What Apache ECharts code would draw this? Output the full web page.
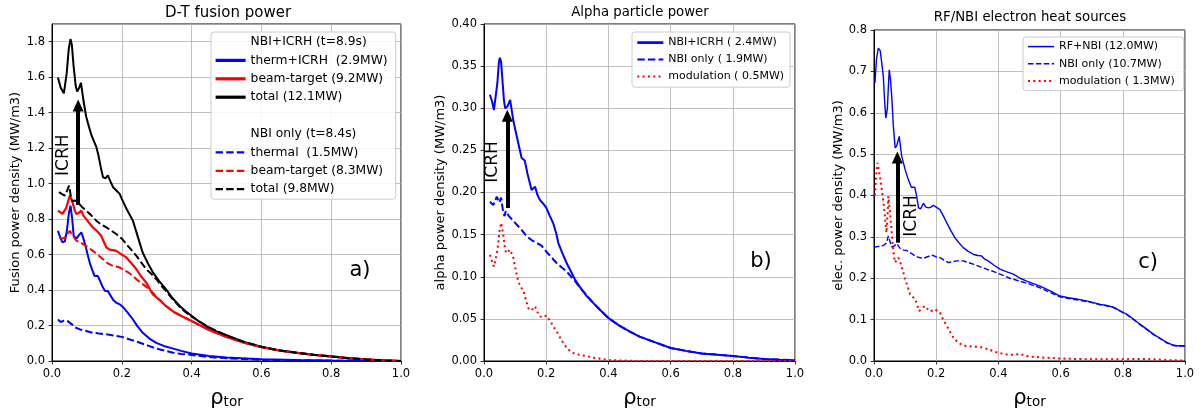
<!DOCTYPE html>
<html>
<head>
<meta charset="utf-8">
<script src="https://cdn.jsdelivr.net/npm/echarts/dist/echarts.min.js"></script>
<style>
  html, body { margin: 0; padding: 0; background: #fff; }
  #chart { width: 1199px; height: 414px; }
</style>
</head>
<body>
<div id="chart"></div>
<script>
// values, pairs of [rho_tor, density]
// a) D-T fusion power, NBI+ICRH
var fusThermIcrh = [[0.017,0.734],[0.025,0.69],[0.03,0.669],[0.037,0.675],[0.043,0.74],[0.048,0.83],[0.053,0.876],[0.058,0.8],[0.062,0.706],[0.07,0.69],[0.077,0.71],[0.084,0.725],[0.09,0.69],[0.096,0.649],[0.102,0.6],[0.108,0.555],[0.115,0.515],[0.122,0.479],[0.131,0.48],[0.137,0.455],[0.146,0.414],[0.152,0.395],[0.16,0.394],[0.165,0.385],[0.175,0.345],[0.184,0.329],[0.195,0.318],[0.203,0.305],[0.218,0.27],[0.232,0.234],[0.245,0.195],[0.26,0.159],[0.28,0.125],[0.299,0.102],[0.32,0.085],[0.34,0.074],[0.37,0.057],[0.4,0.042],[0.45,0.028],[0.5,0.02],[0.6,0.01],[0.7,0.006],[0.8,0.003],[0.9,0.001],[1.0,0]];
var fusBeamIcrh = [[0.017,0.848],[0.03,0.829],[0.04,0.86],[0.051,0.933],[0.058,0.9],[0.065,0.85],[0.07,0.829],[0.077,0.835],[0.084,0.848],[0.09,0.82],[0.098,0.8],[0.108,0.775],[0.117,0.753],[0.13,0.73],[0.141,0.706],[0.15,0.665],[0.156,0.64],[0.165,0.628],[0.175,0.625],[0.184,0.621],[0.2,0.6],[0.213,0.584],[0.228,0.55],[0.242,0.517],[0.256,0.475],[0.27,0.442],[0.289,0.375],[0.308,0.345],[0.327,0.309],[0.35,0.275],[0.375,0.25],[0.4,0.225],[0.45,0.175],[0.5,0.135],[0.55,0.103],[0.6,0.078],[0.65,0.06],[0.7,0.046],[0.75,0.035],[0.8,0.026],[0.85,0.016],[0.9,0.009],[0.95,0.003],[1.0,0]];
var fusTotalIcrh = [[0.017,1.598],[0.025,1.54],[0.034,1.509],[0.042,1.62],[0.048,1.76],[0.053,1.815],[0.057,1.78],[0.062,1.66],[0.068,1.55],[0.072,1.52],[0.078,1.54],[0.083,1.569],[0.09,1.47],[0.098,1.377],[0.106,1.32],[0.113,1.273],[0.12,1.24],[0.127,1.207],[0.133,1.16],[0.14,1.09],[0.146,1.037],[0.153,1.03],[0.16,1.046],[0.168,1.01],[0.175,0.98],[0.185,0.96],[0.194,0.942],[0.2,0.914],[0.213,0.86],[0.232,0.79],[0.246,0.7],[0.26,0.61],[0.275,0.55],[0.289,0.5],[0.307,0.45],[0.327,0.404],[0.345,0.355],[0.366,0.31],[0.383,0.28],[0.4,0.255],[0.42,0.225],[0.442,0.196],[0.47,0.168],[0.5,0.145],[0.55,0.108],[0.6,0.08],[0.65,0.06],[0.709,0.045],[0.75,0.035],[0.8,0.026],[0.85,0.016],[0.9,0.008],[0.95,0.003],[1.0,0]];
// a) NBI only
var fusThermNbi = [[0.017,0.234],[0.025,0.22],[0.03,0.21],[0.037,0.23],[0.045,0.225],[0.05,0.234],[0.058,0.205],[0.065,0.19],[0.08,0.178],[0.1,0.168],[0.117,0.159],[0.135,0.155],[0.156,0.151],[0.18,0.143],[0.2,0.136],[0.225,0.12],[0.25,0.104],[0.275,0.087],[0.299,0.07],[0.325,0.057],[0.347,0.047],[0.37,0.04],[0.4,0.034],[0.45,0.022],[0.5,0.015],[0.6,0.007],[0.7,0.004],[0.8,0.002],[0.9,0.001],[1.0,0]];
var fusBeamNbi = [[0.02,0.697],[0.03,0.69],[0.037,0.697],[0.045,0.72],[0.051,0.734],[0.058,0.71],[0.07,0.678],[0.08,0.67],[0.089,0.659],[0.1,0.645],[0.117,0.621],[0.13,0.6],[0.146,0.574],[0.16,0.55],[0.175,0.536],[0.19,0.53],[0.203,0.517],[0.218,0.5],[0.232,0.479],[0.245,0.455],[0.261,0.432],[0.275,0.41],[0.289,0.385],[0.3,0.36],[0.327,0.309],[0.35,0.275],[0.375,0.25],[0.4,0.225],[0.45,0.175],[0.5,0.135],[0.55,0.103],[0.6,0.078],[0.65,0.06],[0.7,0.046],[0.75,0.035],[0.8,0.026],[0.85,0.016],[0.9,0.009],[0.95,0.003],[1.0,0]];
var fusTotalNbi = [[0.02,0.952],[0.03,0.94],[0.037,0.933],[0.043,0.96],[0.049,0.989],[0.053,0.94],[0.058,0.9],[0.065,0.905],[0.074,0.895],[0.085,0.87],[0.098,0.848],[0.113,0.82],[0.127,0.791],[0.14,0.77],[0.156,0.753],[0.17,0.735],[0.184,0.716],[0.2,0.69],[0.213,0.659],[0.228,0.625],[0.242,0.593],[0.256,0.555],[0.27,0.517],[0.285,0.49],[0.299,0.461],[0.313,0.425],[0.327,0.394],[0.345,0.35],[0.366,0.305],[0.383,0.275],[0.4,0.25],[0.45,0.19],[0.5,0.143],[0.55,0.108],[0.6,0.08],[0.65,0.06],[0.7,0.046],[0.75,0.035],[0.8,0.026],[0.85,0.016],[0.9,0.008],[0.95,0.003],[1.0,0]];
// b) alpha particle power
var alphaIcrh = [[0.019,0.316],[0.026,0.308],[0.032,0.298],[0.037,0.3],[0.043,0.33],[0.048,0.355],[0.051,0.36],[0.055,0.355],[0.06,0.33],[0.064,0.31],[0.068,0.3],[0.075,0.302],[0.084,0.31],[0.089,0.298],[0.094,0.286],[0.102,0.272],[0.11,0.259],[0.121,0.241],[0.131,0.238],[0.14,0.222],[0.153,0.203],[0.159,0.203],[0.164,0.207],[0.172,0.197],[0.18,0.191],[0.19,0.187],[0.2,0.182],[0.212,0.172],[0.222,0.164],[0.232,0.152],[0.239,0.14],[0.252,0.128],[0.266,0.116],[0.28,0.106],[0.293,0.0965],[0.31,0.087],[0.33,0.077],[0.351,0.069],[0.375,0.06],[0.4,0.051],[0.435,0.042],[0.469,0.035],[0.5,0.029],[0.544,0.023],[0.6,0.0154],[0.65,0.012],[0.7,0.009],[0.75,0.0075],[0.8,0.006],[0.85,0.004],[0.9,0.0025],[0.95,0.0015],[1.0,0.001]];
var alphaNbi = [[0.019,0.189],[0.025,0.187],[0.03,0.185],[0.036,0.183],[0.041,0.195],[0.046,0.196],[0.05,0.188],[0.055,0.194],[0.062,0.176],[0.066,0.172],[0.07,0.178],[0.08,0.172],[0.09,0.168],[0.1,0.164],[0.12,0.156],[0.137,0.148],[0.155,0.143],[0.17,0.14],[0.185,0.137],[0.2,0.13],[0.217,0.123],[0.234,0.116],[0.25,0.111],[0.266,0.106],[0.29,0.096],[0.309,0.087],[0.33,0.078],[0.351,0.069],[0.375,0.06],[0.4,0.051],[0.435,0.042],[0.469,0.035],[0.5,0.029],[0.544,0.023],[0.6,0.0154],[0.65,0.012],[0.7,0.009],[0.75,0.0075],[0.8,0.006],[0.85,0.004],[0.9,0.0025],[0.95,0.0015],[1.0,0.001]];
var alphaMod = [[0.019,0.126],[0.026,0.118],[0.032,0.112],[0.04,0.125],[0.046,0.14],[0.05,0.155],[0.055,0.164],[0.058,0.165],[0.062,0.15],[0.067,0.135],[0.071,0.128],[0.077,0.13],[0.084,0.132],[0.094,0.123],[0.102,0.108],[0.11,0.0945],[0.118,0.088],[0.127,0.083],[0.135,0.072],[0.142,0.063],[0.152,0.06],[0.164,0.065],[0.172,0.058],[0.18,0.053],[0.19,0.052],[0.2,0.054],[0.212,0.048],[0.223,0.041],[0.24,0.031],[0.255,0.021],[0.27,0.014],[0.287,0.0095],[0.31,0.007],[0.329,0.006],[0.35,0.004],[0.37,0.003],[0.4,0.001],[0.45,0.0005],[0.5,0],[0.6,0],[0.7,0],[0.8,0],[0.9,0],[1.0,0]];
// c) RF/NBI electron heat sources
var elecRfNbi = [[0.003,0.672],[0.008,0.73],[0.014,0.756],[0.02,0.75],[0.025,0.72],[0.03,0.687],[0.034,0.63],[0.038,0.587],[0.043,0.61],[0.046,0.66],[0.049,0.704],[0.053,0.68],[0.057,0.64],[0.062,0.57],[0.068,0.515],[0.073,0.52],[0.081,0.543],[0.089,0.495],[0.1,0.463],[0.11,0.439],[0.12,0.42],[0.126,0.424],[0.131,0.42],[0.138,0.395],[0.143,0.37],[0.15,0.368],[0.159,0.381],[0.167,0.372],[0.175,0.37],[0.183,0.372],[0.191,0.376],[0.2,0.372],[0.212,0.366],[0.222,0.352],[0.234,0.334],[0.247,0.315],[0.26,0.298],[0.273,0.286],[0.287,0.274],[0.303,0.265],[0.319,0.258],[0.333,0.255],[0.346,0.254],[0.356,0.246],[0.367,0.242],[0.385,0.232],[0.405,0.222],[0.425,0.216],[0.448,0.21],[0.47,0.2],[0.491,0.193],[0.512,0.187],[0.534,0.181],[0.565,0.17],[0.598,0.157],[0.625,0.153],[0.651,0.15],[0.69,0.144],[0.727,0.137],[0.75,0.134],[0.77,0.13],[0.79,0.122],[0.813,0.113],[0.835,0.101],[0.855,0.089],[0.877,0.077],[0.898,0.065],[0.92,0.055],[0.941,0.045],[0.96,0.039],[0.973,0.037],[1.0,0.037]];
var elecNbi = [[0.0,0.275],[0.015,0.277],[0.03,0.279],[0.04,0.285],[0.046,0.302],[0.051,0.29],[0.056,0.276],[0.065,0.278],[0.073,0.284],[0.084,0.272],[0.095,0.268],[0.105,0.267],[0.12,0.26],[0.132,0.254],[0.145,0.25],[0.159,0.248],[0.172,0.252],[0.186,0.256],[0.2,0.252],[0.212,0.25],[0.225,0.244],[0.239,0.238],[0.252,0.24],[0.266,0.242],[0.287,0.242],[0.303,0.238],[0.319,0.234],[0.34,0.228],[0.362,0.222],[0.385,0.216],[0.405,0.21],[0.437,0.2],[0.469,0.193],[0.5,0.186],[0.534,0.177],[0.565,0.166],[0.598,0.155],[0.625,0.151],[0.651,0.148],[0.69,0.143],[0.727,0.136],[0.75,0.133],[0.77,0.129],[0.79,0.121],[0.813,0.112],[0.835,0.1],[0.855,0.088],[0.877,0.076],[0.898,0.064],[0.92,0.054],[0.941,0.044],[0.96,0.038],[0.973,0.036],[1.0,0.036]];
var elecMod = [[0.003,0.4],[0.007,0.45],[0.011,0.479],[0.016,0.46],[0.02,0.44],[0.024,0.42],[0.03,0.385],[0.035,0.35],[0.04,0.31],[0.044,0.36],[0.046,0.398],[0.05,0.37],[0.055,0.33],[0.06,0.28],[0.065,0.25],[0.068,0.238],[0.073,0.245],[0.078,0.25],[0.084,0.24],[0.092,0.22],[0.1,0.198],[0.108,0.18],[0.116,0.161],[0.124,0.155],[0.132,0.15],[0.139,0.135],[0.145,0.121],[0.155,0.128],[0.164,0.133],[0.172,0.126],[0.18,0.12],[0.188,0.122],[0.196,0.125],[0.205,0.12],[0.212,0.117],[0.222,0.1],[0.234,0.085],[0.245,0.07],[0.255,0.057],[0.27,0.045],[0.287,0.037],[0.3,0.036],[0.319,0.035],[0.333,0.034],[0.346,0.033],[0.36,0.03],[0.373,0.027],[0.39,0.022],[0.405,0.019],[0.425,0.016],[0.448,0.015],[0.47,0.017],[0.49,0.012],[0.512,0.01],[0.55,0.008],[0.598,0.006],[0.65,0.005],[0.7,0.004],[0.75,0.004],[0.8,0.004],[0.85,0.005],[0.9,0.004],[0.95,0.002],[1.0,0.001]];

// ICRH arrows: [rho, from, to]
var icrhArrows = [[0.075, 0.88, 1.44], [0.075, 0.1816, 0.291], [0.075, 0.286, 0.492]];

var FONT = 'DejaVu Sans';
var DASH = [7.4, 3.2], DASH_THIN = [5.5, 2.4], DOT = [2, 3.3];

function xAxis(gi) {
  return {
    type: 'value', gridIndex: gi, min: 0, max: 1, interval: 0.2,
    name: '{r|ρ}{s|tor}', nameLocation: 'middle', nameGap: 23,
    nameTextStyle: {
      rich: {
        r: { fontSize: 21, fontFamily: FONT, color: '#000', lineHeight: 25, verticalAlign: 'bottom' },
        s: { fontSize: 13.5, fontFamily: FONT, color: '#000', lineHeight: 16, verticalAlign: 'bottom' }
      }
    },
    axisLine: { onZero: false, lineStyle: { color: '#000', width: 1 } },
    axisTick: { length: 3.5, lineStyle: { color: '#000', width: 0.8 } },
    axisLabel: { margin: 7, fontSize: 11.5, fontFamily: FONT, color: '#000', formatter: function (v) { return v.toFixed(1); } },
    splitLine: { show: true, lineStyle: { color: '#b0b0b0', width: 0.8 } }
  };
}

function yAxis(gi, max, step, digits, name, gap) {
  return {
    type: 'value', gridIndex: gi, min: 0, max: max, interval: step,
    name: name, nameLocation: 'middle', nameGap: gap,
    nameTextStyle: { fontSize: 13, fontFamily: FONT, color: '#000' },
    axisLine: { show: true, onZero: false, lineStyle: { color: '#000', width: 1 } },
    axisTick: { show: true, length: 3.5, lineStyle: { color: '#000', width: 0.8 } },
    axisLabel: {
      margin: 7, fontSize: 11.5, fontFamily: FONT, color: '#000', showMaxLabel: digits !== 1 || max !== 1.9,
      formatter: function (v) { return v.toFixed(digits); }
    },
    splitLine: { show: true, lineStyle: { color: '#b0b0b0', width: 0.8 } }
  };
}

function line(name, data, color, type, width, gi) {
  return {
    name: name, type: 'line', data: data, xAxisIndex: gi, yAxisIndex: gi,
    symbol: 'none', showSymbol: false, animation: false, silent: true,
    lineStyle: { color: color, type: type, width: width },
    itemStyle: { color: color },
    emphasis: { disabled: true }
  };
}

// heading rows of the first legend have no line
function blank(name) {
  return line(name, [], 'rgba(0,0,0,0)', 'solid', 0, 0);
}

function arrow(a, side, dist) {
  return {
    silent: true, animation: false,
    symbol: ['none', 'triangle'], symbolSize: [11, 12],
    lineStyle: { color: '#000', width: 4, type: 'solid' },
    label: { show: true, formatter: 'ICRH', position: side, distance: dist, color: '#000', fontSize: 17, fontFamily: FONT },
    emphasis: { disabled: true },
    data: [[{ coord: [a[0], a[1]] }, { coord: [a[0], a[2]] }]]
  };
}

var totIcrh = line('total (12.1MW)', fusTotalIcrh, '#000', 'solid', 2, 0);
totIcrh.markLine = arrow(icrhArrows[0], 'insideMiddleTop', 6);
var aIcrh = line('NBI+ICRH ( 2.4MW)', alphaIcrh, '#0000ff', 'solid', 2, 1);
aIcrh.markLine = arrow(icrhArrows[1], 'insideMiddleTop', 6);
var eRf = line('RF+NBI (12.0MW)', elecRfNbi, '#0000ff', 'solid', 1.4, 2);
eRf.markLine = arrow(icrhArrows[2], 'insideStartBottom', 6);

var series = [
  blank('NBI+ICRH (t=8.9s)'),
  line('therm+ICRH  (2.9MW)', fusThermIcrh, '#0000ff', 'solid', 2, 0),
  line('beam-target (9.2MW)', fusBeamIcrh, '#ff0000', 'solid', 2.2, 0),
  totIcrh,
  blank(' '),
  blank('NBI only (t=8.4s)'),
  line('thermal  (1.5MW)', fusThermNbi, '#0000ff', DASH, 2, 0),
  line('beam-target (8.3MW)', fusBeamNbi, '#ff0000', DASH, 2, 0),
  line('total (9.8MW)', fusTotalNbi, '#000', DASH, 2, 0),
  aIcrh,
  line('NBI only ( 1.9MW)', alphaNbi, '#0000ff', DASH, 2, 1),
  line('modulation ( 0.5MW)', alphaMod, '#ff0000', DOT, 2, 1),
  eRf,
  line('NBI only (10.7MW)', elecNbi, '#0000ff', DASH_THIN, 1.4, 2),
  line('modulation ( 1.3MW)', elecMod, '#ff0000', DOT, 2, 2)
];

function legend(items, left, top, fontSize, itemWidth, gap, pad) {
  return {
    orient: 'vertical', left: left, top: top, selectedMode: false,
    itemWidth: itemWidth, itemHeight: 14, itemGap: gap, padding: pad,
    backgroundColor: 'rgba(255,255,255,0.85)', borderColor: '#cccccc', borderWidth: 1, borderRadius: 3,
    itemStyle: { opacity: 0 },
    textStyle: { fontSize: fontSize, fontFamily: FONT, color: '#000' },
    data: items
  };
}

function item(name, w) {
  return { name: name, itemStyle: { opacity: 0 }, lineStyle: { width: w } };
}

var chart = echarts.init(document.getElementById('chart'));
chart.setOption({
  backgroundColor: '#fff',
  animation: false,
  grid: [
    { left: 52, top: 24, width: 349, height: 337, show: true, borderColor: '#000', borderWidth: 1 },
    { left: 484, top: 24, width: 311, height: 337, show: true, borderColor: '#000', borderWidth: 1 },
    { left: 874, top: 30, width: 311, height: 332, show: true, borderColor: '#000', borderWidth: 1 }
  ],
  xAxis: [xAxis(0), xAxis(1), xAxis(2)],
  yAxis: [
    yAxis(0, 1.9, 0.2, 1, 'Fusion power density (MW/m3)', 30),
    yAxis(1, 0.4, 0.05, 2, 'alpha power density (MW/m3)', 35),
    yAxis(2, 0.8, 0.1, 1, 'elec. power density (MW/m3)', 28)
  ],
  legend: [
    legend([item('NBI+ICRH (t=8.9s)', 0), item('therm+ICRH  (2.9MW)', 3.2), item('beam-target (9.2MW)', 3.2), item('total (12.1MW)', 3.2),
            item(' ', 0), item('NBI only (t=8.4s)', 0), item('thermal  (1.5MW)', 2.2), item('beam-target (8.3MW)', 2.2), item('total (9.8MW)', 2.2)],
           211, 32, 12.3, 30, 6.4, [4, 8, 4, 3]),
    legend([item('NBI+ICRH ( 2.4MW)', 2.7), item('NBI only ( 1.9MW)', 2), item('modulation ( 0.5MW)', 2)],
           632, 32, 11, 26, 5.8, [5, 6, 5, 4]),
    legend([item('RF+NBI (12.0MW)', 1.5), item('NBI only (10.7MW)', 1.5), item('modulation ( 1.3MW)', 2)],
           1023, 37, 11, 26, 6, [4, 9, 4, 4])
  ],
  graphic: [
    { type: 'text', x: 228, y: 13, style: { text: 'D-T fusion power', fontSize: 15, fontFamily: FONT, fill: '#000', align: 'center', verticalAlign: 'middle' } },
    { type: 'text', x: 640, y: 13, style: { text: 'Alpha particle power', fontSize: 13.3, fontFamily: FONT, fill: '#000', align: 'center', verticalAlign: 'middle' } },
    { type: 'text', x: 1030, y: 18, style: { text: 'RF/NBI electron heat sources', fontSize: 13.3, fontFamily: FONT, fill: '#000', align: 'center', verticalAlign: 'middle' } },
    { type: 'text', x: 360, y: 271, style: { text: 'a)', fontSize: 21, fontFamily: FONT, fill: '#000', align: 'center', verticalAlign: 'middle' } },
    { type: 'text', x: 761, y: 262, style: { text: 'b)', fontSize: 21, fontFamily: FONT, fill: '#000', align: 'center', verticalAlign: 'middle' } },
    { type: 'text', x: 1148, y: 263, style: { text: 'c)', fontSize: 21, fontFamily: FONT, fill: '#000', align: 'center', verticalAlign: 'middle' } }
  ],
  series: series
});
</script>
</body>
</html>
